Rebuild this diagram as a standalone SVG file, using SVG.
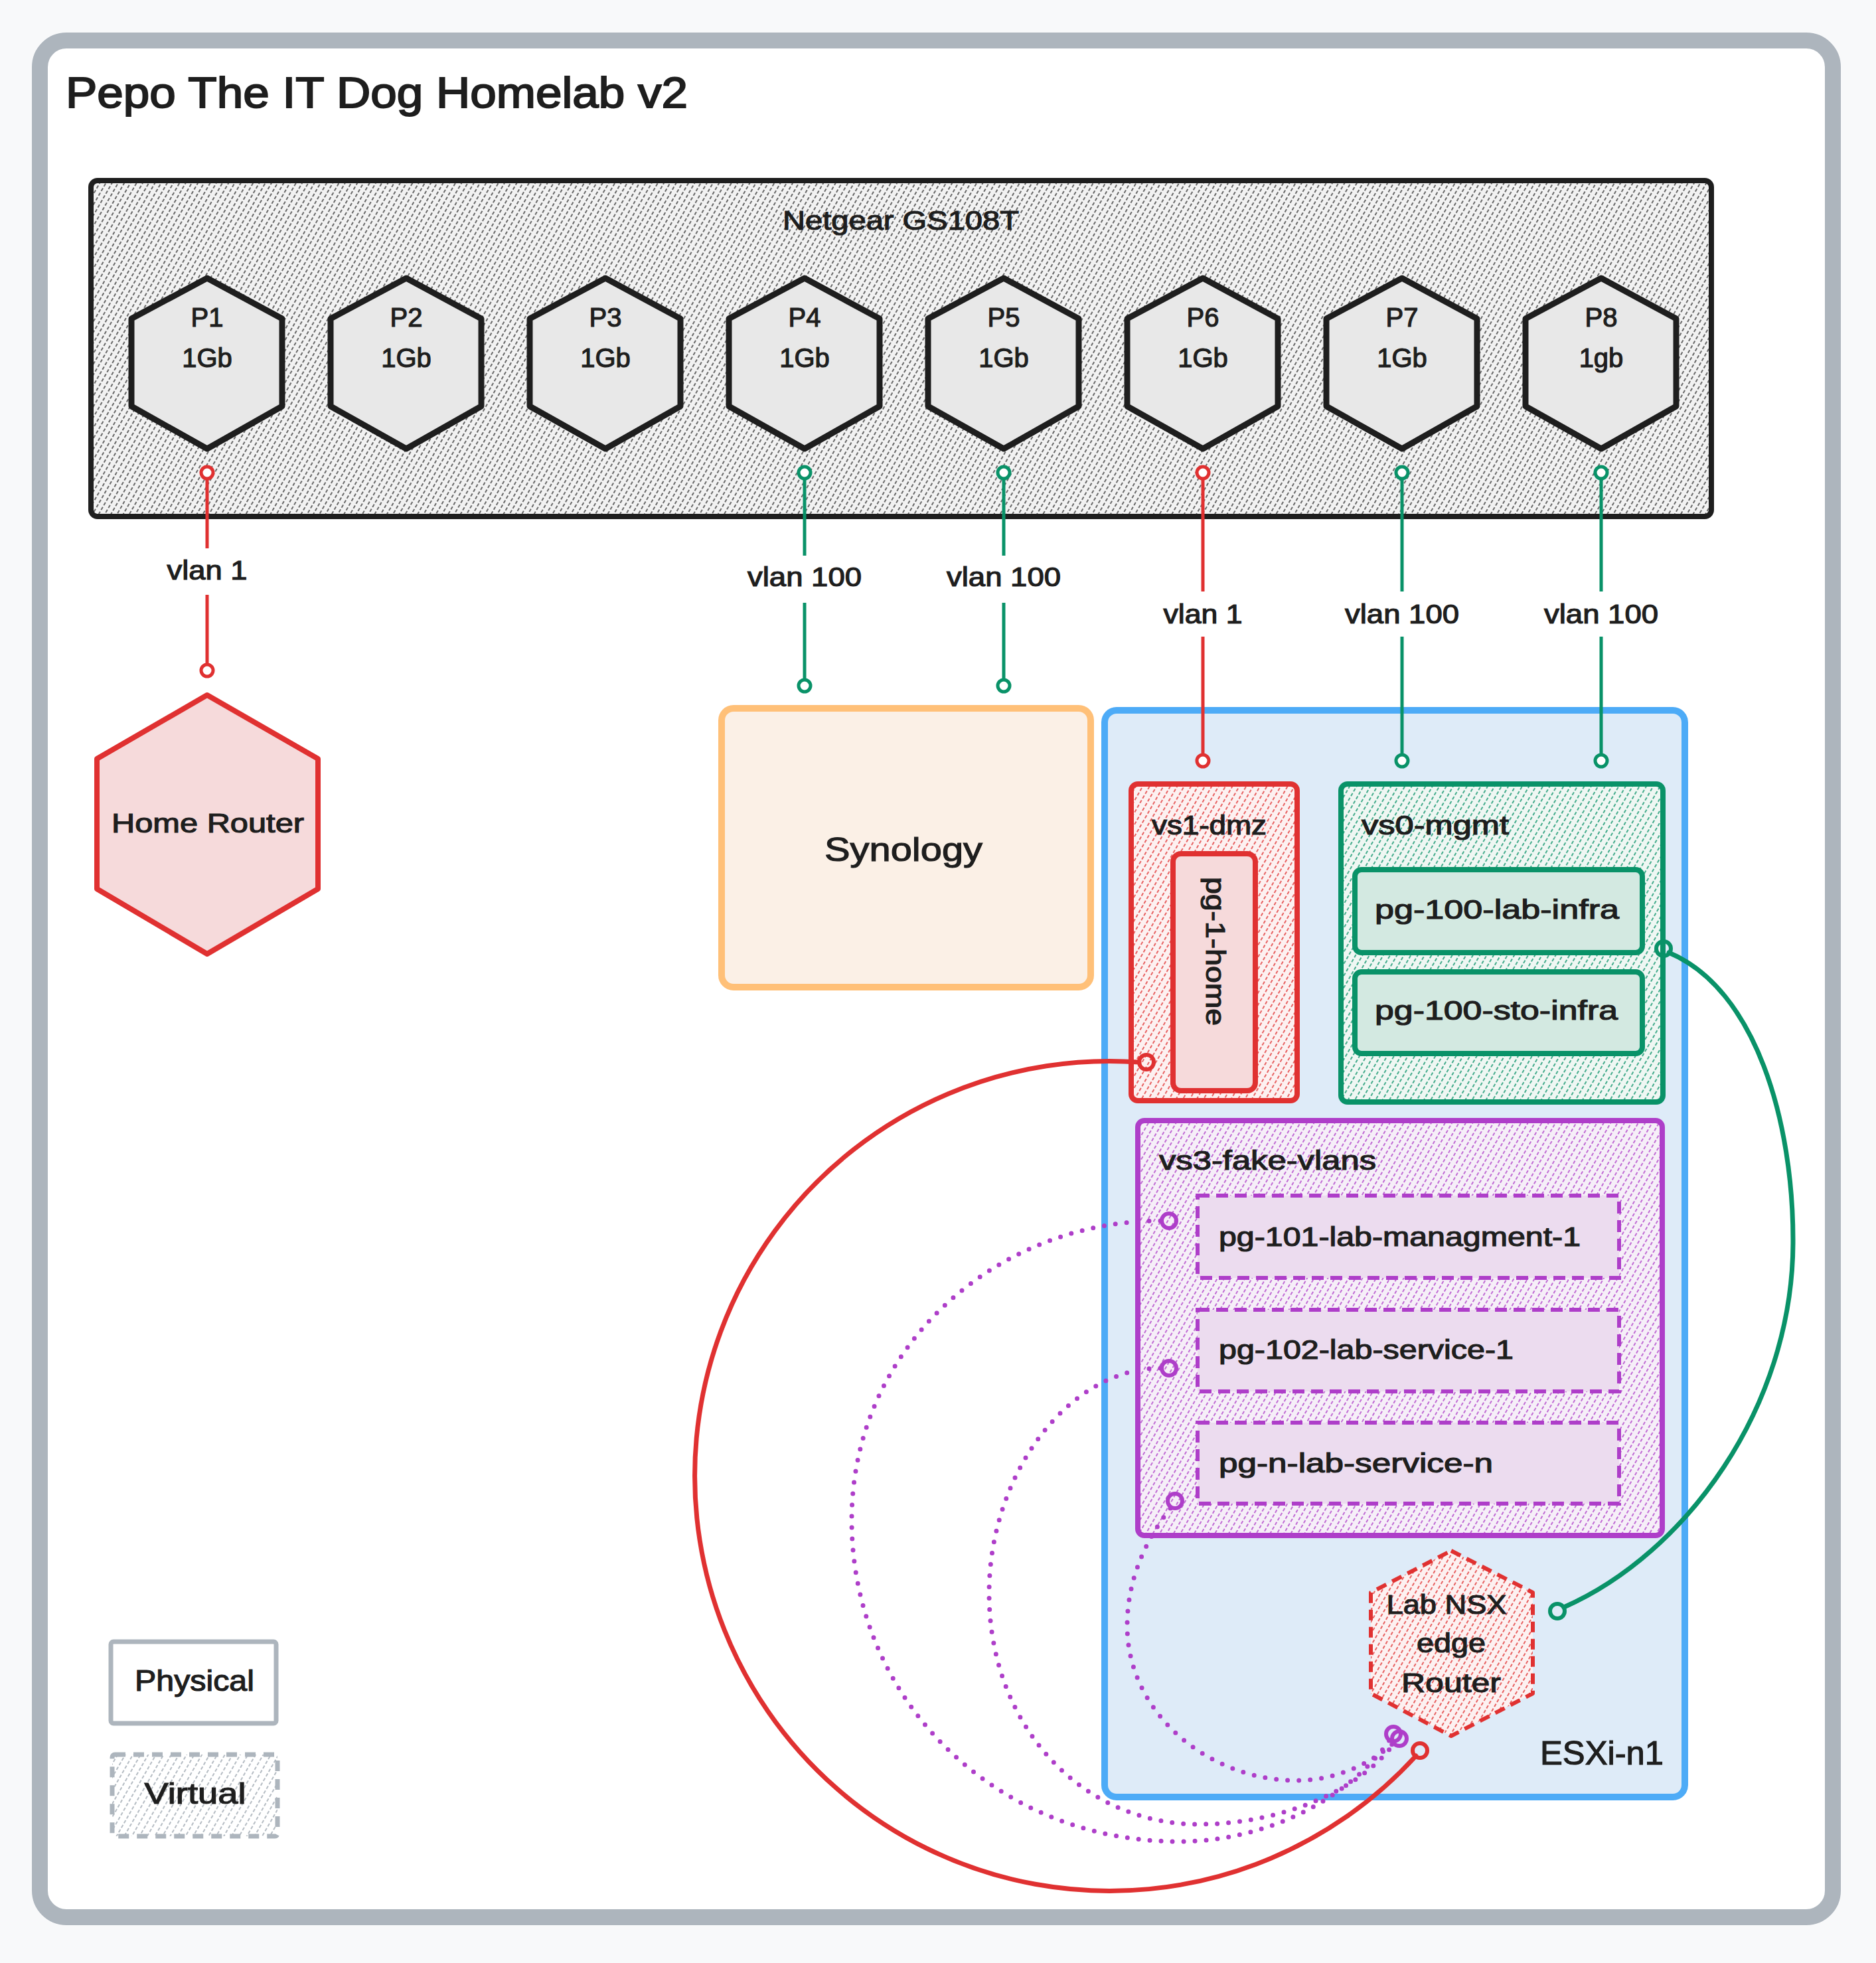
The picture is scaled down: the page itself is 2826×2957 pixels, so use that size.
<svg xmlns="http://www.w3.org/2000/svg" width="2826" height="2957" viewBox="0 0 2826 2957">
<defs>
<style>
text{font-family:"Liberation Sans",Arial,sans-serif;fill:#1e1e1e;stroke:#1e1e1e;stroke-width:1.2px;}
.t40{font-size:40px;}
.t44{font-size:44px;}
.t50{font-size:50px;}
.mid{text-anchor:middle;}
.port{fill:#e8e8e8;stroke:#1e1e1e;stroke-width:9;stroke-linejoin:round;}
.lnR{stroke:#e03131;stroke-width:5;fill:none;}
.lnG{stroke:#099268;stroke-width:5;fill:none;}
.dotR{stroke:#e03131;stroke-width:5;fill:#ffffff;}
.dotG{stroke:#099268;stroke-width:5;fill:#ffffff;}
.endR{stroke:#e03131;stroke-width:6;fill:none;}
.endG{stroke:#099268;stroke-width:6;fill:none;}
.endP{stroke:#ae3ec9;stroke-width:6;fill:none;}
.curveR{stroke:#e03131;stroke-width:7;fill:none;stroke-linecap:round;}
.curveG{stroke:#099268;stroke-width:7;fill:none;stroke-linecap:round;}
.curveP{stroke:#ae3ec9;stroke-width:7;fill:none;stroke-linecap:round;stroke-dasharray:0 17;}
</style>
<pattern id="hDark" width="8" height="8" patternUnits="userSpaceOnUse" patternTransform="rotate(30)">
<rect width="8" height="8" fill="#f2f2f2"/>
<line x1="4" y1="0" x2="4" y2="8" stroke="#3a3a3a" stroke-width="1.5" stroke-dasharray="5 3"/>
</pattern>
<pattern id="hRed" width="9" height="8" patternUnits="userSpaceOnUse" patternTransform="rotate(30)">
<rect width="9" height="8" fill="#fdf1f1"/>
<line x1="4" y1="0" x2="4" y2="8" stroke="#e03131" stroke-width="1.5" stroke-dasharray="5 3"/>
</pattern>
<pattern id="hGreen" width="9" height="8" patternUnits="userSpaceOnUse" patternTransform="rotate(30)">
<rect width="9" height="8" fill="#eff7f3"/>
<line x1="4" y1="0" x2="4" y2="8" stroke="#099268" stroke-width="1.5" stroke-dasharray="5 3"/>
</pattern>
<pattern id="hPurple" width="9" height="8" patternUnits="userSpaceOnUse" patternTransform="rotate(30)">
<rect width="9" height="8" fill="#f6eff8"/>
<line x1="4" y1="0" x2="4" y2="8" stroke="#ae3ec9" stroke-width="1.5" stroke-dasharray="5 3"/>
</pattern>
<pattern id="hGray" width="10" height="8" patternUnits="userSpaceOnUse" patternTransform="rotate(30)">
<rect width="10" height="8" fill="#ffffff"/>
<line x1="5" y1="0" x2="5" y2="8" stroke="#adb5bd" stroke-width="1.8" stroke-dasharray="5 3"/>
</pattern>
<polygon id="hexPort" points="0,419 113,480 113,612 0,676 -114,612 -114,480"/>
</defs>

<rect x="0" y="0" width="2826" height="2957" fill="#f8f9fa"/>

<g id="frame">
<rect x="60" y="61" width="2701" height="2827" rx="40" fill="#ffffff" stroke="#adb5bd" stroke-width="24"/>
<text x="99" y="162" style="font-size:64px;stroke-width:2px" textLength="937" lengthAdjust="spacingAndGlyphs">Pepo The IT Dog Homelab v2</text>
</g>

<g id="switch">
<rect x="137" y="272" width="2441" height="506" rx="10" fill="url(#hDark)" stroke="#1e1e1e" stroke-width="8"/>
<text class="t40 mid" x="1357" y="346" textLength="356" lengthAdjust="spacingAndGlyphs">Netgear GS108T</text>
</g>

<g id="port-p1"><use href="#hexPort" x="312" class="port"/><text class="t40 mid" x="312" y="492">P1</text><text class="t40 mid" x="312" y="553">1Gb</text></g>
<g id="port-p2"><use href="#hexPort" x="612" class="port"/><text class="t40 mid" x="612" y="492">P2</text><text class="t40 mid" x="612" y="553">1Gb</text></g>
<g id="port-p3"><use href="#hexPort" x="912" class="port"/><text class="t40 mid" x="912" y="492">P3</text><text class="t40 mid" x="912" y="553">1Gb</text></g>
<g id="port-p4"><use href="#hexPort" x="1212" class="port"/><text class="t40 mid" x="1212" y="492">P4</text><text class="t40 mid" x="1212" y="553">1Gb</text></g>
<g id="port-p5"><use href="#hexPort" x="1512" class="port"/><text class="t40 mid" x="1512" y="492">P5</text><text class="t40 mid" x="1512" y="553">1Gb</text></g>
<g id="port-p6"><use href="#hexPort" x="1812" class="port"/><text class="t40 mid" x="1812" y="492">P6</text><text class="t40 mid" x="1812" y="553">1Gb</text></g>
<g id="port-p7"><use href="#hexPort" x="2112" class="port"/><text class="t40 mid" x="2112" y="492">P7</text><text class="t40 mid" x="2112" y="553">1Gb</text></g>
<g id="port-p8"><use href="#hexPort" x="2412" class="port"/><text class="t40 mid" x="2412" y="492">P8</text><text class="t40 mid" x="2412" y="553">1gb</text></g>

<g id="home-router">
<polygon points="312,1047 479,1143 479,1339 312,1437 146,1339 146,1143" fill="#f6dadb" stroke="#e03131" stroke-width="8" stroke-linejoin="round"/>
<text class="t40 mid" x="313" y="1254" textLength="290" lengthAdjust="spacingAndGlyphs">Home Router</text>
</g>

<g id="synology">
<rect x="1087" y="1067" width="556" height="420" rx="18" fill="#fbf0e6" stroke="#ffc078" stroke-width="10"/>
<text class="t50 mid" x="1361" y="1297" textLength="238" lengthAdjust="spacingAndGlyphs">Synology</text>
</g>

<g id="esxi-n1">
<rect x="1664" y="1070" width="874" height="1637" rx="18" fill="#deebf8" stroke="#4dabf7" stroke-width="10"/>
<text class="t50" x="2320" y="2658" textLength="186" lengthAdjust="spacingAndGlyphs">ESXi-n1</text>
</g>

<g id="vs1-dmz">
<rect x="1704" y="1181" width="250" height="477" rx="10" fill="url(#hRed)" stroke="#e03131" stroke-width="8"/>
<text class="t40" x="1735" y="1257" textLength="173" lengthAdjust="spacingAndGlyphs">vs1-dmz</text>
</g>

<g id="pg-1-home">
<rect x="1767" y="1286" width="124" height="357" rx="12" fill="#f6dadb" stroke="#e03131" stroke-width="8"/>
<text class="t40 mid" transform="translate(1829,1433) rotate(90)" x="0" y="12" textLength="224" lengthAdjust="spacingAndGlyphs">pg-1-home</text>
</g>

<g id="vs0-mgmt">
<rect x="2020" y="1181" width="485" height="479" rx="10" fill="url(#hGreen)" stroke="#099268" stroke-width="8"/>
<text class="t40" x="2051" y="1257" textLength="222" lengthAdjust="spacingAndGlyphs">vs0-mgmt</text>
</g>

<g id="pg-100-lab-infra">
<rect x="2041" y="1310" width="433" height="125" rx="10" fill="#d3e9e1" stroke="#099268" stroke-width="8"/>
<text class="t40 mid" x="2255" y="1384" textLength="368" lengthAdjust="spacingAndGlyphs">pg-100-lab-infra</text>
</g>

<g id="pg-100-sto-infra">
<rect x="2041" y="1464" width="433" height="123" rx="10" fill="#d3e9e1" stroke="#099268" stroke-width="8"/>
<text class="t40 mid" x="2254" y="1536" textLength="366" lengthAdjust="spacingAndGlyphs">pg-100-sto-infra</text>
</g>

<g id="vs3-fake-vlans">
<rect x="1714" y="1688" width="790" height="625" rx="10" fill="url(#hPurple)" stroke="#ae3ec9" stroke-width="8"/>
<text class="t40" x="1746" y="1762" textLength="327" lengthAdjust="spacingAndGlyphs">vs3-fake-vlans</text>
</g>

<g id="pg-101-lab-managment-1">
<rect x="1804" y="1801" width="635" height="124" fill="#ecdcef" stroke="#ae3ec9" stroke-width="6" stroke-dasharray="18 10"/>
<text class="t40" x="1836" y="1877" textLength="545" lengthAdjust="spacingAndGlyphs">pg-101-lab-managment-1</text>
</g>

<g id="pg-102-lab-service-1">
<rect x="1804" y="1973" width="635" height="123" fill="#ecdcef" stroke="#ae3ec9" stroke-width="6" stroke-dasharray="18 10"/>
<text class="t40" x="1836" y="2047" textLength="444" lengthAdjust="spacingAndGlyphs">pg-102-lab-service-1</text>
</g>

<g id="pg-n-lab-service-n">
<rect x="1804" y="2143" width="635" height="122" fill="#ecdcef" stroke="#ae3ec9" stroke-width="6" stroke-dasharray="18 10"/>
<text class="t40" x="1836" y="2218" textLength="413" lengthAdjust="spacingAndGlyphs">pg-n-lab-service-n</text>
</g>

<g id="lab-nsx-edge-router">
<polygon points="2186,2336 2309,2399 2309,2551 2186,2615 2065,2551 2065,2399" fill="url(#hRed)" stroke="#e03131" stroke-width="6" stroke-dasharray="16 10" stroke-linejoin="round"/>
<text class="t40 mid" x="2179" y="2431" textLength="181" lengthAdjust="spacingAndGlyphs">Lab NSX</text>
<text class="t40 mid" x="2186" y="2489" textLength="104" lengthAdjust="spacingAndGlyphs">edge</text>
<text class="t40 mid" x="2186" y="2549" textLength="150" lengthAdjust="spacingAndGlyphs">Router</text>
</g>

<g id="legend-physical">
<rect x="167" y="2473" width="249" height="123" rx="4" fill="#ffffff" stroke="#adb5bd" stroke-width="7"/>
<text class="t44 mid" x="293" y="2547" textLength="180" lengthAdjust="spacingAndGlyphs">Physical</text>
</g>

<g id="legend-virtual">
<rect x="169" y="2643" width="249" height="123" rx="4" fill="url(#hGray)" stroke="#adb5bd" stroke-width="7" stroke-dasharray="16 12"/>
<text class="t44 mid" x="294" y="2717" textLength="153" lengthAdjust="spacingAndGlyphs">Virtual</text>
</g>

<g id="connectors">
<circle class="dotR" cx="312" cy="712" r="9"/>
<line class="lnR" x1="312" y1="721" x2="312" y2="826"/>
<text class="t40 mid" x="312" y="873" textLength="121" lengthAdjust="spacingAndGlyphs">vlan 1</text>
<line class="lnR" x1="312" y1="896" x2="312" y2="1001"/>
<circle class="dotR" cx="312" cy="1010" r="9"/>

<circle class="dotG" cx="1212" cy="712" r="9"/>
<line class="lnG" x1="1212" y1="721" x2="1212" y2="837"/>
<text class="t40 mid" x="1212" y="883" textLength="172" lengthAdjust="spacingAndGlyphs">vlan 100</text>
<line class="lnG" x1="1212" y1="908" x2="1212" y2="1024"/>
<circle class="dotG" cx="1212" cy="1033" r="9"/>

<circle class="dotG" cx="1512" cy="712" r="9"/>
<line class="lnG" x1="1512" y1="721" x2="1512" y2="837"/>
<text class="t40 mid" x="1512" y="883" textLength="172" lengthAdjust="spacingAndGlyphs">vlan 100</text>
<line class="lnG" x1="1512" y1="908" x2="1512" y2="1024"/>
<circle class="dotG" cx="1512" cy="1033" r="9"/>

<circle class="dotR" cx="1812" cy="712" r="9"/>
<line class="lnR" x1="1812" y1="721" x2="1812" y2="891"/>
<text class="t40 mid" x="1812" y="939" textLength="119" lengthAdjust="spacingAndGlyphs">vlan 1</text>
<line class="lnR" x1="1812" y1="959" x2="1812" y2="1137"/>
<circle class="dotR" cx="1812" cy="1146" r="9"/>

<circle class="dotG" cx="2112" cy="712" r="9"/>
<line class="lnG" x1="2112" y1="721" x2="2112" y2="891"/>
<text class="t40 mid" x="2112" y="939" textLength="172" lengthAdjust="spacingAndGlyphs">vlan 100</text>
<line class="lnG" x1="2112" y1="959" x2="2112" y2="1137"/>
<circle class="dotG" cx="2112" cy="1146" r="9"/>

<circle class="dotG" cx="2412" cy="712" r="9"/>
<line class="lnG" x1="2412" y1="721" x2="2412" y2="891"/>
<text class="t40 mid" x="2412" y="939" textLength="172" lengthAdjust="spacingAndGlyphs">vlan 100</text>
<line class="lnG" x1="2412" y1="959" x2="2412" y2="1137"/>
<circle class="dotG" cx="2412" cy="1146" r="9"/>

<path class="curveR" d="M1716,1600 A 625 625 0 1 0 2133,2645"/>
<circle class="endR" cx="1727" cy="1600" r="11"/>
<circle class="endR" cx="2139" cy="2637" r="11"/>

<path class="curveG" d="M2514,1435 C 2645,1490 2702,1690 2701,1873 C 2700,2120 2540,2340 2356,2421"/>
<circle class="endG" cx="2506" cy="1429" r="11"/>
<circle class="endG" cx="2346" cy="2427" r="11"/>

<path class="curveP" d="M1748,1839 C 1500,1839 1283,2030 1283,2290 C 1283,2560 1500,2774 1775,2774 C 1920,2774 2040,2700 2094,2620"/>
<path class="curveP" d="M1748,2061 C 1610,2061 1490,2220 1490,2400 C 1490,2600 1630,2748 1805,2748 C 1940,2748 2055,2690 2100,2626"/>
<path class="curveP" d="M1763,2272 C 1718,2330 1698,2390 1698,2449 C 1698,2580 1820,2682 1953,2682 C 2020,2682 2075,2650 2104,2621"/>
<circle class="endP" cx="1761" cy="1839" r="11"/>
<circle class="endP" cx="1761" cy="2061" r="11"/>
<circle class="endP" cx="1770" cy="2261" r="11"/>
<circle class="endP" cx="2099" cy="2612" r="11"/>
<circle class="endP" cx="2108" cy="2619" r="11"/>
</g>
</svg>
